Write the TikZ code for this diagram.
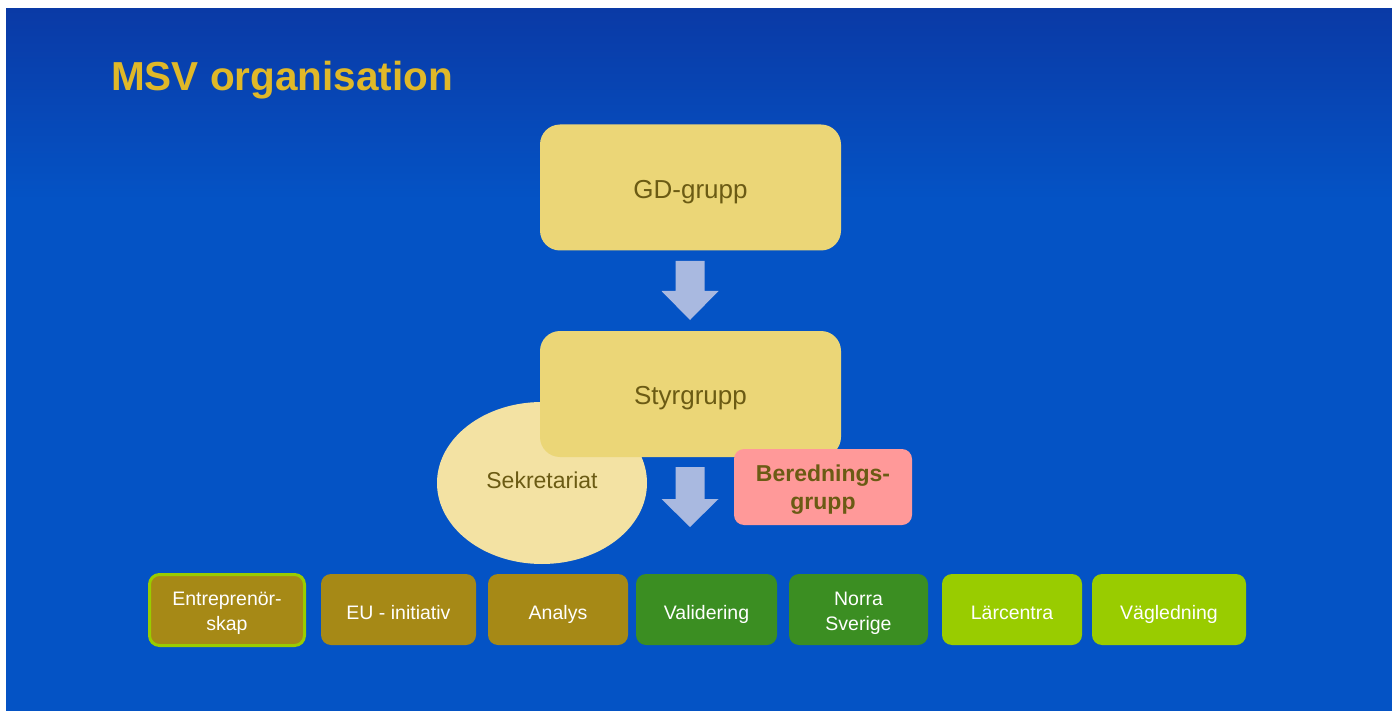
\documentclass[tikz,border=0pt]{standalone}
\usepackage{fontspec}
\setmainfont{Liberation Sans}
\usetikzlibrary{shapes.geometric}
\definecolor{bgtop}{HTML}{0A3AA6}
\definecolor{bgmain}{HTML}{0453C5}
\definecolor{titlegold}{HTML}{E0B828}
\definecolor{boxyellow}{HTML}{EBD677}
\definecolor{ellyellow}{HTML}{F3E2A3}
\definecolor{olivetext}{HTML}{6B5B14}
\definecolor{pinkbox}{HTML}{FF9999}
\definecolor{arrowblue}{HTML}{A9B9E0}
\definecolor{olivebox}{HTML}{A68916}
\definecolor{greenbox}{HTML}{3B8E22}
\definecolor{limebox}{HTML}{99CC00}
\tikzset{
  bigbox/.style={rounded corners=20pt, fill=boxyellow, minimum width=301pt, minimum height=126pt, inner sep=0pt, text=olivetext, font=\fontsize{26}{30}\selectfont, text height=21.6pt, text depth=0pt},
  secbox/.style={ellipse, fill=ellyellow, minimum width=210pt, minimum height=162pt, inner sep=0pt, text=olivetext, font=\fontsize{23}{27}\selectfont, text height=10.6pt, text depth=0pt},
  berbox/.style={rounded corners=10pt, fill=pinkbox, minimum width=178pt, minimum height=76pt, inner sep=0pt},
  bertext/.style={text=olivetext, align=center, inner sep=0pt, font=\fontsize{23}{28}\selectfont\bfseries},
  unitbox/.style={rounded corners=10pt, minimum height=71pt, inner sep=0pt, text=white, align=center, font=\fontsize{19.5}{24.5}\selectfont, text height=19pt, text depth=0pt},
  unittext/.style={text=white, align=center, inner sep=0pt, font=\fontsize{19.5}{24.5}\selectfont},
  blockarrow/.style={fill=arrowblue},
}
\begin{document}
\begin{tikzpicture}[x=1pt,y=-1pt]
\useasboundingbox (0,0) rectangle (1392,711);
\fill[white] (0,0) rectangle (1392,711);
\shade[top color=bgtop, bottom color=bgmain] (6,9) rectangle (1392,200);
\fill[bgmain] (6,199.5) rectangle (1392,711);

\node[anchor=base west, text=titlegold, font=\fontsize{40.5}{44}\selectfont\bfseries, inner sep=0pt] (title) at (111,91) {MSV organisation};

\node[bigbox] (gd) at (690.5,187.5) {GD-grupp};
\node[secbox] (sek) at (542,483) {Sekretariat};
\node[bigbox] (sty) at (690.5,394) {Styrgrupp};
\node[berbox, label={[bertext, yshift=-3pt]center:{Berednings-\\grupp}}] (ber) at (823,487) {};

\coordinate (a1) at (675.5,261);
\fill[blockarrow] (a1) -- ++(29,0) -- ++(0,30) -- ++(14,0) -- ++(-28.5,29) -- ++(-28.5,-29) -- ++(14,0) -- cycle;
\coordinate (a2) at (675.5,467);
\fill[blockarrow] (a2) -- ++(29,0) -- ++(0,32) -- ++(14,0) -- ++(-28.5,28) -- ++(-28.5,-28) -- ++(14,0) -- cycle;

\node[unitbox, fill=olivebox, draw=limebox, line width=3pt, minimum width=155pt, minimum height=71pt, label={[unittext, yshift=-3.5pt]center:{Entreprenör-\\skap}}] (ent) at (227,610) {};
\node[unitbox, fill=olivebox, minimum width=155pt] (eu) at (398.5,609.5) {EU - initiativ};
\node[unitbox, fill=olivebox, minimum width=140pt] (ana) at (558,609.5) {Analys};
\node[unitbox, fill=greenbox, minimum width=141pt] (val) at (706.5,609.5) {Validering};
\node[unitbox, fill=greenbox, minimum width=139pt, label={[unittext, yshift=-4pt]center:{Norra\\Sverige}}] (nor) at (858.5,609.5) {};
\node[unitbox, fill=limebox, minimum width=140pt] (lar) at (1012,609.5) {Lärcentra};
\node[unitbox, fill=limebox, minimum width=154pt] (vag) at (1169,609.5) {Vägledning};
\end{tikzpicture}
\end{document}
